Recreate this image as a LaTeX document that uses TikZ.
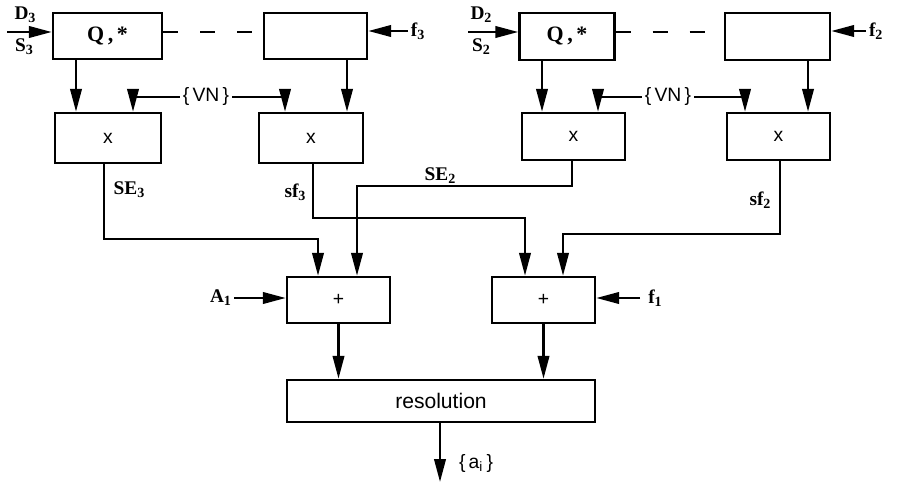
\documentclass[tikz,border=0pt]{standalone}
\usepackage{fontspec}
\setmainfont{Liberation Serif}
\setsansfont{Liberation Sans}
\usetikzlibrary{arrows.meta, positioning}
\newcommand{\lowidx}[1]{\raisebox{-0.35ex}{\footnotesize #1}}

\begin{document}
\begin{tikzpicture}[x=0.2mm, y=-0.2mm, >={Triangle[length=4.6mm, width=2.3mm]}, line width=1.4pt]

\tikzstyle{block} = [rectangle, draw=black, minimum width=20.6mm, minimum height=9.2mm, inner sep=0pt, font=\sffamily\fontsize{11}{13}\selectfont]
\tikzstyle{sig} = [inner sep=1pt, font=\bfseries\fontsize{11}{13}\selectfont]
\tikzstyle{tag} = [inner sep=1pt, font=\sffamily\fontsize{11}{13}\selectfont]
\tikzstyle{flow} = [->]
\tikzstyle{link} = [dash pattern=on 3mm off 4.4mm]

\useasboundingbox (0,0) rectangle (898,483);

% left group
\node (Q3) [block, minimum width=21.8mm, font=\bfseries\fontsize{12.5}{14}\selectfont] at (107.5,36) {Q\,,\,*};
\node (R3) [block] at (315.5,36) {};
\node (X3a) [block, minimum width=21.2mm, minimum height=10mm] at (108,138) {x};
\node (X3b) [block, minimum width=20.8mm, minimum height=10mm] at (311,138) {x};
\node (VN3) [tag] at (206,97) {\{\,VN\,\}};

% right group
\node (Q2) [block, minimum width=19mm, minimum height=9.4mm, font=\bfseries\fontsize{12.5}{14}\selectfont] at (567,36.5) {Q\,,\,*};
\node (R2) [block, minimum width=21mm, minimum height=9.4mm] at (777.5,36.5) {};
\node (X2a) [block, minimum height=9.4mm] at (573.5,136.5) {x};
\node (X2b) [block, minimum height=9.4mm] at (778.5,136.5) {x};
\node (VN2) [tag] at (668,97) {\{\,VN\,\}};

% sums and resolution
\node (P1) [block] at (338.5,300) {+};
\node (P2) [block] at (543.5,300) {+};
\node (Res) [block, minimum width=61.6mm, minimum height=8.4mm, font=\sffamily\fontsize{12}{14}\selectfont] at (441,401) {resolution};

% free ends
\coordinate (D3in) at (7,32);
\coordinate (D2in) at (468,32);
\coordinate (F3in) at (408,31);
\coordinate (F2in) at (866,31);
\coordinate (A1in) at (234,298);
\coordinate (F1in) at (640,298);
\coordinate (Out) at (440,482);

% labels
\node (D3) [sig] at (25,15) {D\lowidx{3}};
\node (S3) [sig] at (24,47) {S\lowidx{3}};
\node (D2) [sig] at (481,15) {D\lowidx{2}};
\node (S2) [sig] at (481,47) {S\lowidx{2}};
\node (F3) [sig, right=0pt of F3in] {f\lowidx{3}};
\node (F2) [sig, right=0pt of F2in] {f\lowidx{2}};
\node (A1) [sig, left=0pt of A1in] {A\lowidx{1}};
\node (F1) [sig, right=3pt of F1in] {f\lowidx{1}};
\node (SE3) [sig] at (129,190) {SE\lowidx{3}};
\node (SF3) [sig] at (295,192) {sf\lowidx{3}};
\node (SE2) [sig] at (440,176) {SE\lowidx{2}};
\node (SF2) [sig] at (760,200) {sf\lowidx{2}};
\node (AI) [tag] at (476,463) {\{\,a\textsubscript{i}\,\}};

% inputs and dashed links
\draw [flow] (D3in) -- (Q3.west |- D3in);
\draw [flow] (D2in) -- (Q2.west |- D2in);
\draw [flow] (F3in) -- (R3.east |- F3in);
\draw [flow] (F2in) -- (R2.east |- F2in);
\draw [link] ([yshift=0.8mm]Q3.east) -- ([yshift=0.8mm]Q3.east -| R3.west);
\draw [link] ([yshift=0.9mm]Q2.east) -- ([yshift=0.9mm]Q2.east -| R2.west);

% into the products
\draw [flow] ([xshift=-6.3mm]Q3.south) -- ([xshift=-6.3mm]Q3.south |- X3a.north);
\draw [flow] ([xshift=6.3mm]R3.south) -- ([xshift=6.3mm]R3.south |- X3b.north);
\draw [flow] (VN3.west) -| ([xshift=5mm]X3a.north);
\draw [flow] (VN3.east) -| ([xshift=-5.2mm]X3b.north);
\draw [flow] ([xshift=-5mm]Q2.south) -- ([xshift=-5mm]Q2.south |- X2a.north);
\draw [flow] ([xshift=6.1mm]R2.south) -- ([xshift=6.1mm]R2.south |- X2b.north);
\draw [flow] (VN2.west) -| ([xshift=4.9mm]X2a.north);
\draw [flow] (VN2.east) -| ([xshift=-6.7mm]X2b.north);

% products to sums
\draw [flow] ([xshift=-0.8mm]X3a.south) -- ++(0,75) -| ([xshift=-4.1mm]P1.north);
\draw [flow] ([xshift=0.4mm]X3b.south) -- ++(0,54) -| ([xshift=-3.7mm]P2.north);
\draw [flow] ([xshift=-0.3mm]X2a.south) -- ++(0,25) -| ([xshift=3.7mm]P1.north);
\draw [flow] ([xshift=0.3mm]X2b.south) -- ++(0,73) -| ([xshift=3.9mm]P2.north);
\draw [flow] (A1in) -- (P1.west |- A1in);
\draw [flow] (F1in) -- (P2.east |- F1in);

% resolution
\draw [flow] (P1.south) -- (P1.south |- Res.north);
\draw [flow] (P2.south) -- (P2.south |- Res.north);
\draw [flow] (Res.south -| Out) -- (Out);

\end{tikzpicture}
\end{document}
